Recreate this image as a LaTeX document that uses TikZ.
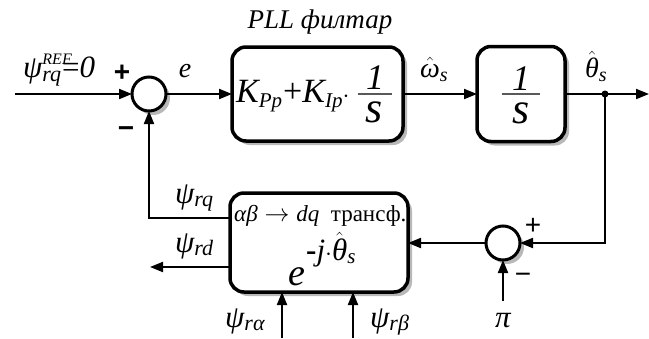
\documentclass[tikz,border=0pt]{standalone}
\usepackage{amsmath}
\usepackage{fontspec}
\setmainfont{Liberation Serif}
\newfontfamily\sgnfont{Liberation Sans}
\newcommand\sbx[3]{\raisebox{#1}{\fontsize{#2}{#2}\selectfont\itshape #3}}
\usetikzlibrary{arrows.meta,shadows}
\begin{document}
\begin{tikzpicture}[x=1pt,y=-1pt,
  shd/.style={drop shadow={shadow xshift=4pt,shadow yshift=-4pt,fill=black!28,opacity=1}},
  blk/.style={draw,line width=3.5pt,rounded corners=14pt,fill=white,inner sep=0pt,outer sep=0pt,shd},
  sumj/.style={draw,circle,line width=3pt,minimum size=34pt,inner sep=0pt,outer sep=0pt,fill=white,shd},
  sig/.style={line width=2pt,-{Triangle[length=13pt,width=10pt]}},
  fbar/.style={line width=1.6pt,black!65},
  lbl/.style={font=\fontsize{28}{30}\selectfont\itshape,inner sep=0pt},
  lblp/.style={font=\fontsize{31}{33}\selectfont\itshape,inner sep=0pt},
  sgnb/.style={font=\sgnfont\bfseries\fontsize{28}{30}\selectfont,inner sep=0pt},
  sgn/.style={font=\sgnfont\fontsize{28}{30}\selectfont,inner sep=0pt},
  mid/.style={font=\fontsize{34}{36}\selectfont\itshape,inner sep=0pt},
  num/.style={font=\fontsize{36}{38}\selectfont\itshape,inner sep=0pt},
  den/.style={font=\fontsize{44}{46}\selectfont\itshape,inner sep=0pt},
  small/.style={font=\fontsize{23}{25}\selectfont,inner sep=0pt}
]
\useasboundingbox (0,0) rectangle (649,338);

% blocks
\node[sumj] (s1) at (149,94) {};
\node[blk,minimum width=171pt,minimum height=94pt] (b1) at (317.5,94) {};
\node[blk,minimum width=88pt,minimum height=95pt] (b2) at (521,94) {};
\node[sumj] (s2) at (503,243) {};
\node[blk,minimum width=178pt,minimum height=99pt] (b3) at (319,242.5) {};

% block 1 contents
\node[mid,anchor=base west] (t1) at (236,102) {K\sbx{-5pt}{21}{Pp}\kern1pt\upshape+\itshape K\sbx{-5pt}{21}{Ip}\upshape$\cdot$};
\node[num,anchor=base] (n1) at (375,89) {1};
\coordinate (f1a) at (358,94);
\coordinate (f1b) at (392,94);
\draw[fbar] (f1a) -- (f1b);
\node[den,anchor=base] (d1) at (374,122) {s};
% block 2 contents
\node[num,anchor=base] (n2) at (521,90) {1};
\coordinate (f2a) at (502,94);
\coordinate (f2b) at (540,94);
\draw[fbar] (f2a) -- (f2b);
\node[den,anchor=base] (d2) at (521,123) {s};
% block 3 contents
\node[small,anchor=base west] (t3) at (234,221) {$\textit{αβ}\rightarrow\textit{dq}$\ \ трансф.};
\node[font=\fontsize{38}{40}\selectfont\itshape,inner sep=0pt,anchor=base west] (t4) at (288,285) {e};
\node[font=\fontsize{31}{33}\selectfont\itshape,inner sep=0pt,anchor=base west] (t5) at (306,260) {\upshape\bfseries-\mdseries\itshape j\upshape$\cdot$$\hat{\textit{θ}}$\sbx{-3pt}{21}{s}};
\node[font=\fontsize{27}{29}\selectfont\itshape,inner sep=0pt,anchor=base] (ttl) at (320,28) {PLL филтар};

% labels
\node[lblp,anchor=base west] (lref) at (23,77) {ψ\rlap{\sbx{13pt}{16}{REF}}\sbx{-4pt}{22}{rq}\kern1pt\upshape=\itshape 0};
\node[sgnb] (p1) at (122,73) {+};
\node[sgnb] (m1) at (126,132) {−};
\node[lbl,anchor=base] (le) at (185,77) {e};
\node[lbl,anchor=base west] (lw) at (420,77) {$\hat{\textit{ω}}$\sbx{-4pt}{20}{s}};
\node[lbl,anchor=base west] (lth) at (585,77) {$\hat{\textit{θ}}$\sbx{-4pt}{20}{s}};
\node[lblp,anchor=base west] (lq) at (175,203) {ψ\sbx{-3pt}{22}{rq}};
\node[lblp,anchor=base west] (ld) at (175,252) {ψ\sbx{-3pt}{22}{rd}};
\node[lblp,anchor=base west] (la) at (225,327) {ψ\sbx{-3pt}{22}{rα}};
\node[lblp,anchor=base west] (lb) at (370,327) {ψ\sbx{-3pt}{22}{rβ}};
\node[lblp,anchor=base] (lpi) at (503,327) {π};
\node[sgn] (p2) at (533,226) {+};
\node[sgn] (m2) at (523,278) {−};

% coordinates
\coordinate (in) at (15,94);
\coordinate (out) at (649,94);
\coordinate (dot) at (605,94);
\coordinate (qy) at (0,218);
\coordinate (dy) at (0,267);
\coordinate (dend) at (150,267);
\coordinate (as) at (282,338);
\coordinate (bs) at (353,338);
\coordinate (pis) at (503,301);

% connectors
\draw[sig] (in) -- (s1);
\draw[sig] (s1) -- (b1);
\draw[sig] (b1) -- (b2);
\draw[sig] (b2) -- (out);
\fill (dot) circle (3.5pt);
\draw[sig] (dot) |- (s2);
\draw[sig] (s2.west) -- (s2.west -| b3.east);
\draw[sig] (b3.west |- qy) -| (s1.south);
\draw[sig] (b3.west |- dy) -- (dend);
\draw[sig] (as) -- (as |- b3.south);
\draw[sig] (bs) -- (bs |- b3.south);
\draw[sig] (pis) -- (s2.south);
\end{tikzpicture}
\end{document}
